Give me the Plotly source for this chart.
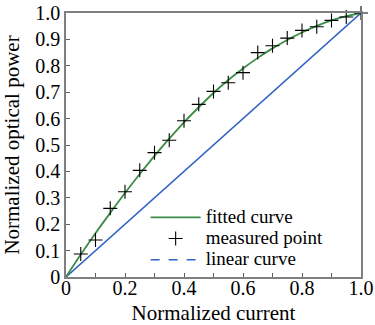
import plotly.graph_objects as go

# measured points
meas_x = [0.05, 0.10, 0.15, 0.20, 0.25, 0.30, 0.35, 0.40, 0.45, 0.50,
          0.55, 0.60, 0.65, 0.70, 0.75, 0.80, 0.85, 0.90, 0.95, 1.00]
meas_y = [0.087, 0.140, 0.260, 0.323, 0.404, 0.471, 0.518, 0.592, 0.654, 0.703,
          0.736, 0.774, 0.850, 0.876, 0.905, 0.934, 0.948, 0.972, 0.985, 1.000]

# fitted curve
fit_x = [0.0, 0.05, 0.10, 0.15, 0.20, 0.25, 0.30, 0.35, 0.40, 0.45, 0.50,
         0.55, 0.60, 0.65, 0.70, 0.75, 0.80, 0.85, 0.90, 0.95, 1.00]
fit_y = [0.0, 0.085, 0.166, 0.243, 0.318, 0.390, 0.459, 0.524, 0.586, 0.643, 0.697,
         0.746, 0.790, 0.830, 0.866, 0.898, 0.926, 0.951, 0.972, 0.988, 1.000]

# linear curve
lin_x = [0.0, 1.0]
lin_y = [0.0, 1.0]

x_ticks = [0, 0.2, 0.4, 0.6, 0.8, 1.0]
x_ticktext = ["0", "0.2", "0.4", "0.6", "0.8", "1.0"]
y_ticks = [0, 0.1, 0.2, 0.3, 0.4, 0.5, 0.6, 0.7, 0.8, 0.9, 1.0]
y_ticktext = ["0", "0.1", "0.2", "0.3", "0.4", "0.5", "0.6", "0.7", "0.8", "0.9", "1.0"]

GREEN = "#3b8c45"
BLUE = "#2f62c4"
FONT = "'Liberation Serif', 'Times New Roman', 'DejaVu Serif', serif"
FS = 20
LFS = 14


def leg(name):
    return "<span style='font-size:19px'>" + name + "</span>"


fig = go.Figure()
fig.add_trace(go.Scatter(x=lin_x, y=lin_y, mode="lines", line=dict(color=BLUE, width=1.6),
                         showlegend=False, cliponaxis=False))
fig.add_trace(go.Scatter(x=fit_x, y=fit_y, mode="lines", line=dict(color=GREEN, width=1.8, shape="spline"),
                         name=leg("fitted curve"), cliponaxis=False))
fig.add_trace(go.Scatter(x=meas_x, y=meas_y, mode="markers",
                         marker=dict(symbol="cross-thin", size=10, line=dict(color="black", width=1.1)),
                         name=leg("measured point"), cliponaxis=False))
fig.add_trace(go.Scatter(x=[None], y=[None], mode="lines", line=dict(color=BLUE, width=1.6, dash="dash"),
                         name=leg("linear curve")))

axis_common = dict(showgrid=False, zeroline=False, showline=True, linecolor="#808080", linewidth=1.5,
                   mirror=True, ticks="inside", tickcolor="#606060", ticklen=4, tickwidth=1,
                   automargin=False,
                   tickfont=dict(family=FONT, size=FS, color="black"))

fig.update_xaxes(range=[0, 1], tickvals=x_ticks, ticktext=x_ticktext, ticklabelstandoff=-8,
                 minor=dict(dtick=0.1, ticks="inside", ticklen=4, tickcolor="#606060"),
                 title=dict(text="Normalized current", font=dict(family=FONT, size=21, color="black")),
                 **axis_common)
fig.update_yaxes(range=[0, 1], tickvals=y_ticks, ticktext=y_ticktext,
                 title=dict(text="Normalized optical power", font=dict(family=FONT, size=21, color="black")),
                 **axis_common)

fig.update_layout(
    width=375, height=325,
    font=dict(family=FONT, size=FS, color="black"),
    margin=dict(l=66, r=14, t=13, b=48),
    plot_bgcolor="white", paper_bgcolor="white",
    legend=dict(x=0.27, y=0.285, xanchor="left", yanchor="top", bgcolor="rgba(0,0,0,0)",
                font=dict(family=FONT, size=LFS, color="black"), tracegroupgap=0, itemwidth=50),
)

fig.write_html("out.html")
